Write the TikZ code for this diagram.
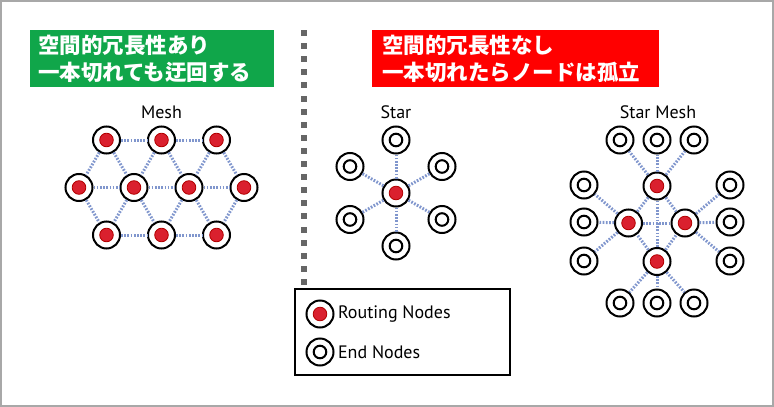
\documentclass[tikz,border=0pt]{standalone}
\usepackage{fontspec}
\setsansfont{PT Sans}
\newfontfamily\jpfont{Noto Sans CJK JP}
\usetikzlibrary{positioning}
\definecolor{boxgreen}{RGB}{16,166,74}
\definecolor{linkblue}{RGB}{128,150,205}
\definecolor{routered}{RGB}{218,32,46}
\definecolor{framegray}{RGB}{168,168,168}
\tikzstyle{topology}=[
    x=1pt,y=-1pt,font=\sffamily\fontsize{18}{21}\selectfont,
    link/.style={draw=linkblue,line width=3pt,dash pattern=on 1.7pt off 1.5pt},
    ring/.style={circle,draw,line width=2pt,minimum size=27pt,inner sep=0pt,fill=white},
]
\tikzstyle{routing node}=[ring,
    path picture={\fill[routered,draw=red!70!black,line width=0.8pt]
        (path picture bounding box.center) circle (6.8pt);}]
\tikzstyle{end node}=[ring,
    path picture={\draw[line width=2pt]
        (path picture bounding box.center) circle (6.3pt);}]
\tikzstyle{headline}=[text=white,align=left,inner ysep=0pt,minimum height=57pt,
    font=\jpfont\bfseries\fontsize{21.5}{27}\selectfont]
\newcommand{\linkall}[2]{\foreach \n in {#2} \path[link] (#1) -- (\n);}

\begin{document}
\begin{tikzpicture}[topology]
    \useasboundingbox (0,0) rectangle (774,407);
    \draw[framegray,line width=2pt] (1,1) rectangle (773,406);

    % headlines
    \node[headline,fill=boxgreen,inner xsep=8pt,text width=228pt] (redundant) at (152,58.5)
        {空間的冗長性あり\\一本切れても迂回する};
    \node[headline,fill=red,inner xsep=10pt,text width=267pt] (isolated) at (515.5,58.5)
        {空間的冗長性なし\\一本切れたらノードは孤立};

    % divider
    \foreach \i in {0,...,19}
        \fill[black!60] (301.3,30+13.1*\i) rectangle +(6,6);

    % mesh
    \node (meshlabel) at (161.5,112) {Mesh};
    \node[routing node] (a1) at (106.5,140) {};
    \node[routing node] (a2) at (161.5,140) {};
    \node[routing node] (a3) at (216.5,140) {};
    \node[routing node] (b1) at (79,187.5) {};
    \node[routing node] (b2) at (134,187.5) {};
    \node[routing node] (b3) at (189,187.5) {};
    \node[routing node] (b4) at (244,187.5) {};
    \node[routing node] (c1) at (106.5,235) {};
    \node[routing node] (c2) at (161.5,235) {};
    \node[routing node] (c3) at (216.5,235) {};
    \linkall{a1}{a2,b1,b2}
    \linkall{a2}{a3,b2,b3}
    \linkall{a3}{b3,b4}
    \linkall{b1}{b2,c1}
    \linkall{b2}{b3,c1,c2}
    \linkall{b3}{b4,c2,c3}
    \linkall{b4}{c3}
    \linkall{c1}{c2}
    \linkall{c2}{c3}

    % star
    \node (starlabel) at (396,112) {Star};
    \node[routing node] (s0) at (396,193) {};
    \node[end node] (s1) at (396,140) {};
    \node[end node] (s2) at (442,166.5) {};
    \node[end node] (s3) at (442,219.5) {};
    \node[end node] (s4) at (396,246) {};
    \node[end node] (s5) at (350,219.5) {};
    \node[end node] (s6) at (350,166.5) {};
    \linkall{s0}{s1,s2,s3,s4,s5,s6}

    % star mesh
    \node (starmeshlabel) at (658,112) {Star Mesh};
    \node[routing node] (top) at (657,186) {};
    \node[routing node] (left) at (628.5,223) {};
    \node[routing node] (right) at (685,223) {};
    \node[routing node] (bottom) at (657,261.5) {};
    \node[end node] (t1) at (620,140) {};
    \node[end node] (t2) at (657,140) {};
    \node[end node] (t3) at (694,140) {};
    \node[end node] (u1) at (620,303) {};
    \node[end node] (u2) at (657,303) {};
    \node[end node] (u3) at (694,303) {};
    \node[end node] (l1) at (584,185) {};
    \node[end node] (l2) at (584,222) {};
    \node[end node] (l3) at (584,261) {};
    \node[end node] (r1) at (730,185) {};
    \node[end node] (r2) at (730,222) {};
    \node[end node] (r3) at (730,261) {};
    \linkall{top}{t1,t2,t3,left,right,bottom}
    \linkall{bottom}{u1,u2,u3,left,right}
    \linkall{left}{l1,l2,l3,right}
    \linkall{right}{r1,r2,r3}

    % legend
    \node[draw,line width=1.5pt,minimum width=215pt,minimum height=86pt] (legend) at (402.5,332) {};
    \node[routing node] (keyrouting) at (320,314) {};
    \node[end node] (keyend) at (320,352) {};
    \node[right=0pt of keyrouting] (routingtext) {Routing Nodes};
    \node[right=0pt of keyend] (endtext) {End Nodes};
\end{tikzpicture}
\end{document}
